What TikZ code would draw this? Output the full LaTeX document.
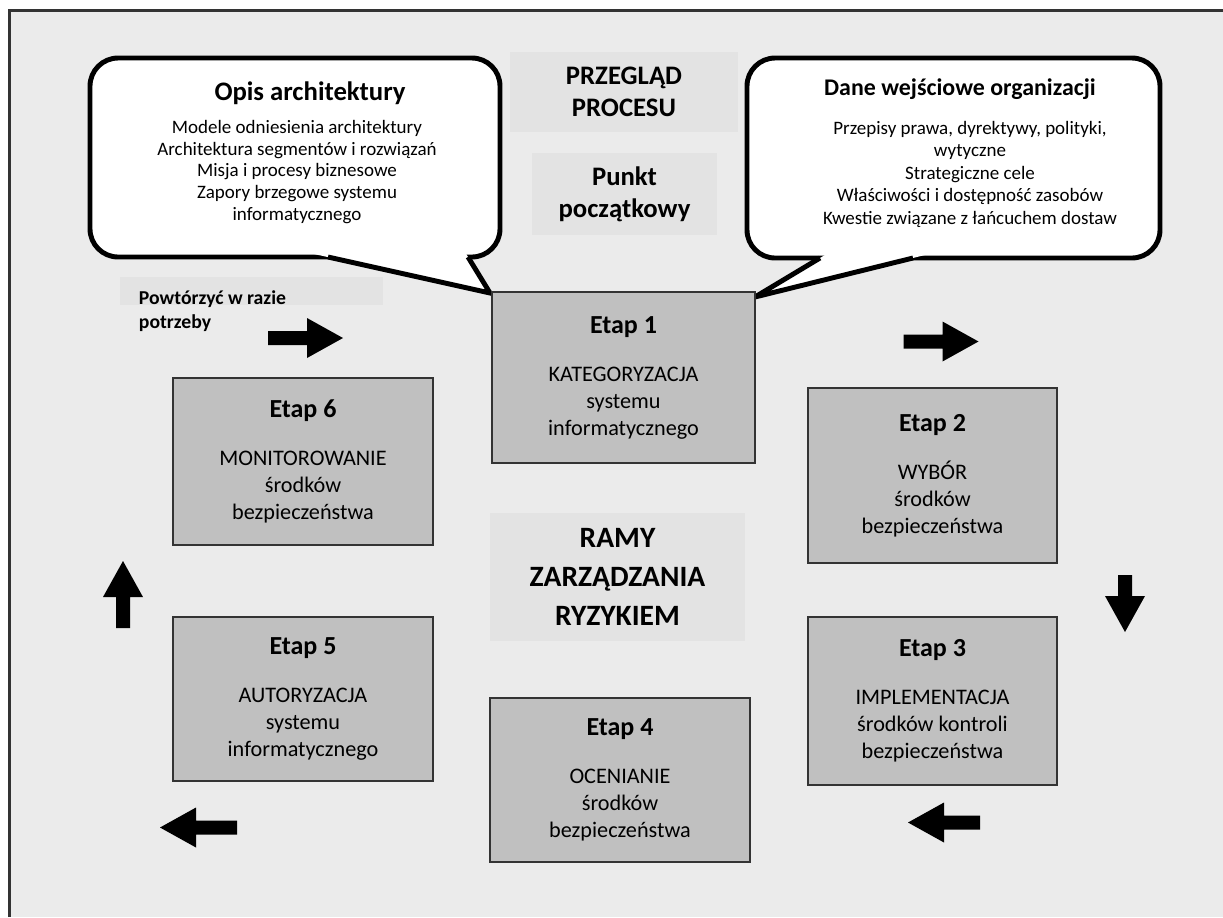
\documentclass[tikz,border=0pt]{standalone}
\usepackage{fontspec}
\setmainfont{Carlito}
\usepackage{tikz}
\usetikzlibrary{positioning}

\definecolor{bgc}{HTML}{EBEBEB}
\definecolor{boxc}{HTML}{C0C0C0}
\definecolor{edgec}{HTML}{333333}
\definecolor{titlec}{HTML}{E3E3E3}

\tikzset{
  etap/.style={draw=edgec, line width=1.4pt, fill=boxc, align=center, inner sep=0pt,
    font=\fontsize{15.8}{19.2}\selectfont},
  bubble/.style={draw=black, line width=3.5pt, fill=white, rounded corners=20pt},
  tail/.style={black, line width=3.5pt},
  headbox/.style={fill=titlec, align=center, inner sep=0pt,
    font=\fontsize{19}{22.7}\selectfont\bfseries},
  pics/blockarrow/.style={code={
    \fill[black] (-#1/2,-7) -- (#1/2-36,-7) -- (#1/2-36,-20) -- (#1/2,0)
      -- (#1/2-36,20) -- (#1/2-36,7) -- (-#1/2,7) -- cycle;}}
}
\newcommand{\etaptitle}[1]{{\fontsize{18.5}{22}\selectfont\bfseries #1}\\[15pt]}

\begin{document}
\begin{tikzpicture}[x=0.025cm, y=-0.025cm]

\useasboundingbox (0,0) rectangle (1223,917);

% tlo i ramka
\fill[bgc] (9.5,10.5) rectangle (1223,917);
\draw[edgec, line width=1.6pt] (9.5,917) -- (9.5,10.5) -- (1223,10.5);

% dymki
\coordinate (tipL) at (490,293);
\coordinate (tipR) at (755,297);

\draw[bubble] (90,58) rectangle (500,257);
\fill[white] (305,252) -- (tipL) -- (465,252) -- cycle;
\draw[tail] (328,257) -- (tipL) -- (468,257);

\draw[bubble] (747,58) rectangle (1160,258);
\fill[white] (830,252) -- (tipR) -- (937,252) -- cycle;
\draw[tail] (820,258) -- (tipR) -- (913,258);

\node[font=\fontsize{19}{23}\selectfont\bfseries] (opis) at (310,93) {Opis architektury};
\node[align=center, font=\fontsize{13.5}{15.5}\selectfont] (opistxt) at (297,172)
  {Modele odniesienia architektury\\Architektura segmentów i rozwiązań\\
   Misja i procesy biznesowe\\Zapory brzegowe systemu\\informatycznego};

\node[font=\fontsize{17}{21}\selectfont\bfseries] (dane) at (960,89) {Dane wejściowe organizacji};
\node[align=center, font=\fontsize{13.5}{16}\selectfont] (danetxt) at (970,174)
  {Przepisy prawa, dyrektywy, polityki,\\wytyczne\\Strategiczne cele\\
   Właściwości i dostępność zasobów\\Kwestie związane z łańcuchem dostaw};

% naglowki srodkowe
\node[headbox, minimum width=5.7cm, minimum height=2cm] (przeglad) at (624,92) {PRZEGLĄD\\PROCESU};
\node[headbox, minimum width=4.625cm, minimum height=2.05cm] (punkt) at (624.5,194) {Punkt\\początkowy};
\node[headbox, minimum width=6.375cm, minimum height=3.2cm,
  font=\fontsize{21}{27.5}\selectfont\bfseries] (ramy) at (617.5,577) {RAMY\\ZARZĄDZANIA\\RYZYKIEM};

\node[fill=titlec, minimum width=6.575cm, minimum height=0.7cm] (powtbox) at (251.5,291) {};
\node[anchor=west, align=left, font=\fontsize{14}{17}\selectfont\bfseries] (powt) at (134,311)
  {Powtórzyć w razie\\potrzeby};

% etapy
\node[etap, minimum width=6.575cm, minimum height=4.275cm] (e1) at (623.5,377.5)
  {\etaptitle{Etap 1}KATEGORYZACJA\\systemu\\informatycznego};
\node[etap, minimum width=6.225cm, minimum height=4.375cm] (e2) at (932.5,475.5)
  {\etaptitle{Etap 2}WYBÓR\\środków\\bezpieczeństwa};
\node[etap, minimum width=6.225cm, minimum height=4.2cm] (e3) at (932.5,701)
  {\etaptitle{Etap 3}IMPLEMENTACJA\\środków kontroli\\bezpieczeństwa};
\node[etap, minimum width=6.5cm, minimum height=4.1cm] (e4) at (620,780)
  {\etaptitle{Etap 4}OCENIANIE\\środków\\bezpieczeństwa};
\node[etap, minimum width=6.5cm, minimum height=4.1cm] (e5) at (303,699)
  {\etaptitle{Etap 5}AUTORYZACJA\\systemu\\informatycznego};
\node[etap, minimum width=6.5cm, minimum height=4.175cm] (e6) at (303,461.5)
  {\etaptitle{Etap 6}MONITOROWANIE\\środków\\bezpieczeństwa};

% strzalki
\pic at (305.5,338) {blockarrow=75};
\pic at (941,341.5) {blockarrow=75};
\pic[rotate=-90] at (1125,603.5) {blockarrow=57};
\pic[rotate=90] at (123,594.5) {blockarrow=67};
\pic[rotate=180] at (198.5,827.5) {blockarrow=77};
\pic[rotate=180] at (944,822.5) {blockarrow=72};

\end{tikzpicture}
\end{document}
